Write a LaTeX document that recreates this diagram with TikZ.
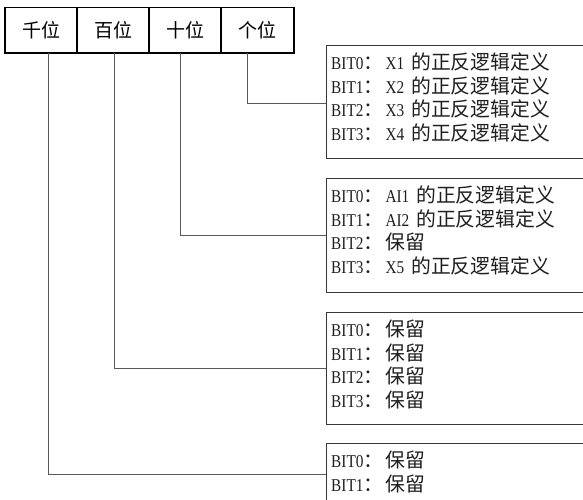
\documentclass[tikz,border=0pt]{standalone}
\usepackage{fontspec}
\newfontfamily\cjk{Noto Sans CJK SC}
\newfontfamily\lat[FakeStretch=0.85]{Liberation Serif}
\newcommand{\cj}{\fontsize{19.8}{23.7}\selectfont\cjk}
\newcommand{\la}{\fontsize{18}{23.7}\selectfont\lat}
\newcommand{\rowa}[3]{{\la #1}\makebox[22pt][l]{\cj ：}{\la #2}\hspace{7pt}{\cj #3}}
\newcommand{\rowb}[2]{{\la #1}\makebox[22pt][l]{\cj ：}{\cj #2}}
\begin{document}
\begin{tikzpicture}[x=1pt,y=-1pt,
  hdr/.style={draw=black, line width=0.8pt, minimum width=72pt, minimum height=45pt,
    inner sep=0pt, anchor=north west, font=\fontsize{19}{21}\selectfont\cjk},
  hthick/.style={draw=black, line width=1.8pt},
  bitbox/.style={draw=black!78, line width=0.8pt, anchor=north west, minimum width=270pt,
    inner sep=0pt},
  rowtext/.style={anchor=base west, inner sep=0pt, text=black!88},
  conn/.style={draw=black!65, line width=0.9pt}]
\clip (0,0) rectangle (583,499);
\fill[white] (0,0) rectangle (583,499);
% header cells
\node[hdr] (c1) at (5,7) {千位};
\node[hdr] (c2) at (77,7) {百位};
\node[hdr] (c3) at (149,7) {十位};
\node[hdr] (c4) at (221,7) {个位};
\foreach \n in {c1,c2,c3,c4} \draw[hthick] (\n.north west) -- (\n.south west);
\draw[hthick] (c4.north east) -- (c4.south east);
\draw[hthick] ([xshift=-1pt]c1.south west) -- ([xshift=1pt]c4.south east);
% bit boxes
\node[bitbox, minimum height=113pt] (b1) at (326,45) {};
\node[bitbox, minimum height=114pt] (b2) at (326,178) {};
\node[bitbox, minimum height=112pt] (b3) at (326,312) {};
\node[bitbox, minimum height=62pt] (b4) at (326,443) {};
% texts of box 1
\node[rowtext] (t10) at (331,69.5) {\rowa{BIT0}{X1}{的正反逻辑定义}};
\node[rowtext] (t11) at (331,93.2) {\rowa{BIT1}{X2}{的正反逻辑定义}};
\node[rowtext] (t12) at (331,116.9) {\rowa{BIT2}{X3}{的正反逻辑定义}};
\node[rowtext] (t13) at (331,140.6) {\rowa{BIT3}{X4}{的正反逻辑定义}};
% texts of box 2
\node[rowtext] (t20) at (331,202.5) {\rowa{BIT0}{AI1}{的正反逻辑定义}};
\node[rowtext] (t21) at (331,226.2) {\rowa{BIT1}{AI2}{的正反逻辑定义}};
\node[rowtext] (t22) at (331,249.9) {\rowb{BIT2}{保留}};
\node[rowtext] (t23) at (331,273.6) {\rowa{BIT3}{X5}{的正反逻辑定义}};
% texts of box 3
\node[rowtext] (t30) at (331,336.5) {\rowb{BIT0}{保留}};
\node[rowtext] (t31) at (331,360.2) {\rowb{BIT1}{保留}};
\node[rowtext] (t32) at (331,383.9) {\rowb{BIT2}{保留}};
\node[rowtext] (t33) at (331,407.6) {\rowb{BIT3}{保留}};
% texts of box 4
\node[rowtext] (t40) at (331,467.5) {\rowb{BIT0}{保留}};
\node[rowtext] (t41) at (331,491.2) {\rowb{BIT1}{保留}};
% connectors
\draw[conn] ([xshift=-10pt]c4.south) |- ([yshift=-2pt]b1.west);
\draw[conn] ([xshift=-5pt]c3.south) |- (b2.west);
\draw[conn] ([xshift=1pt]c2.south) |- (b3.west);
\draw[conn] ([xshift=7pt]c1.south) |- (b4.west);
\end{tikzpicture}
\end{document}
